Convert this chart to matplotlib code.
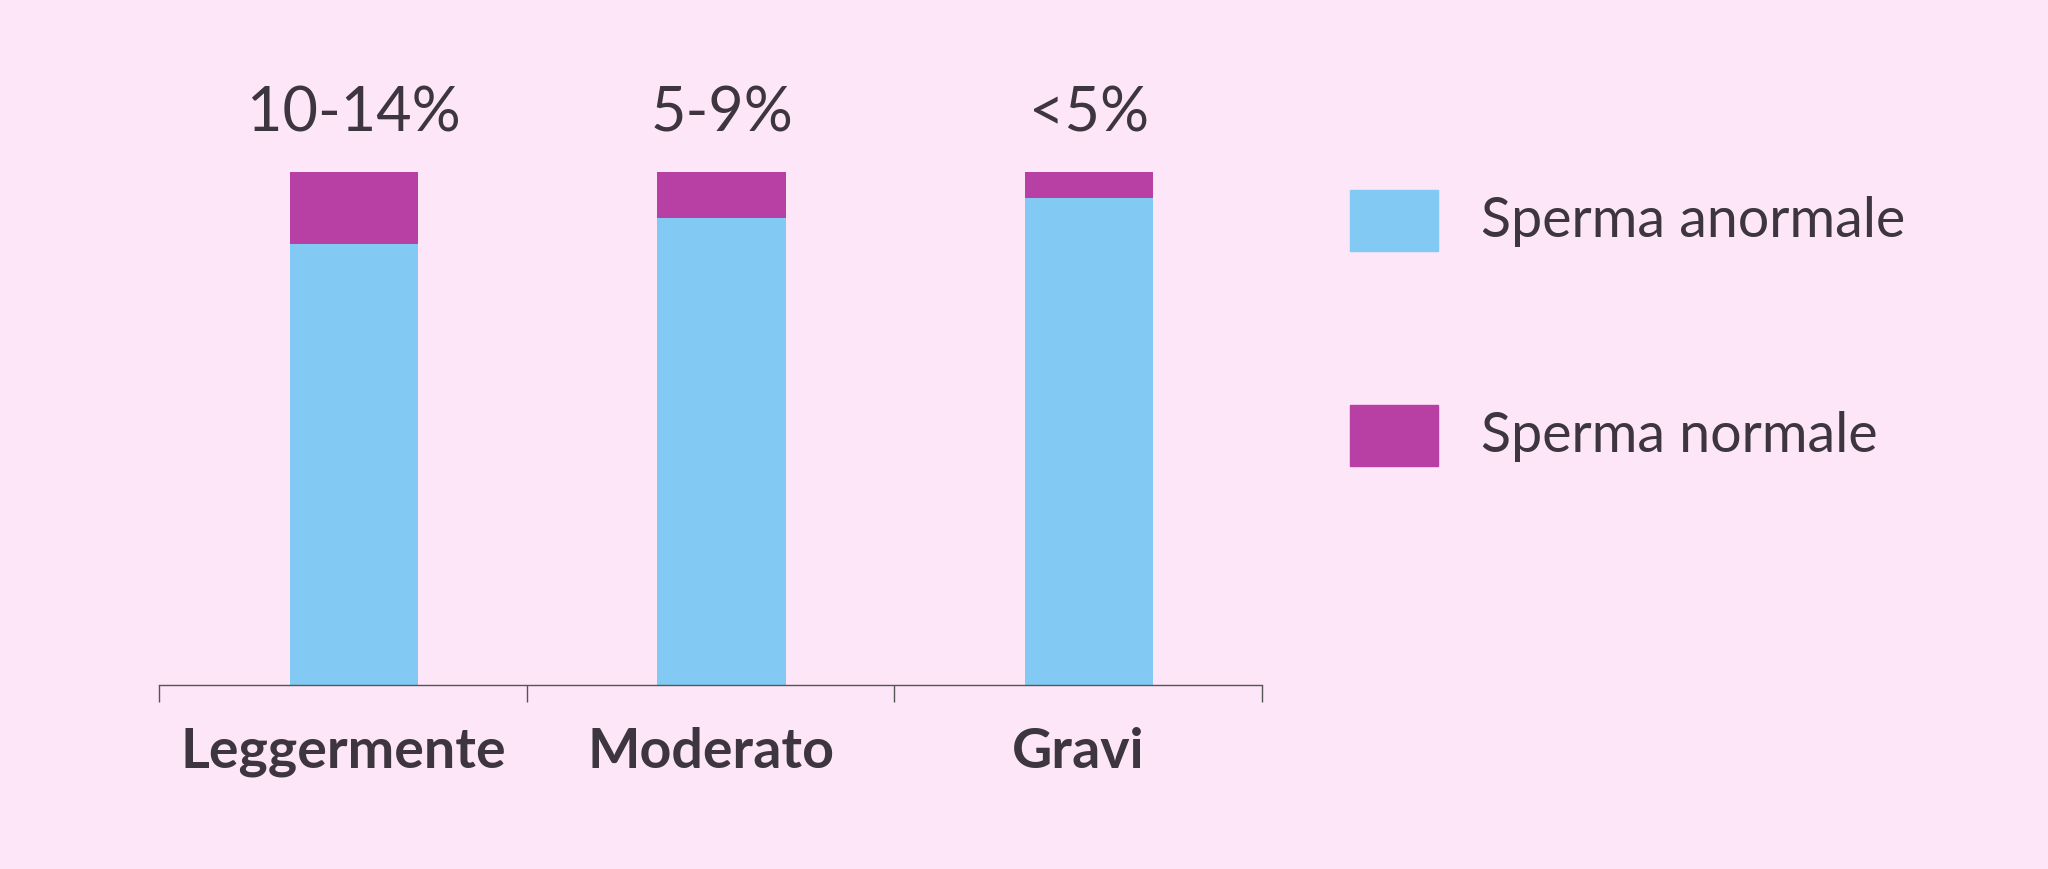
import matplotlib
matplotlib.use("Agg")
import matplotlib.pyplot as plt
from matplotlib.patches import Rectangle

categories = ["Leggermente", "Moderato", "Gravi"]
abnormal = [86, 91, 95]
normal = [14, 9, 5]
top_labels = ["10-14%", "5-9%", "<5%"]
legend_labels = ["Sperma anormale", "Sperma normale"]

bg = "#fde6f8"
blue = "#82caf3"
mag = "#b83fa3"
txt = "#3d3540"
plt.rcParams['font.family'] = ['Lato', 'DejaVu Sans']

fig = plt.figure(figsize=(20.48, 8.7), dpi=100, facecolor=bg)
ax = fig.add_axes([0.0778, 0.211, 0.5383, 0.59], facecolor=bg)
x = [i + 0.03 for i in range(len(categories))]
ax.bar(x, abnormal, width=0.35, color=blue)
ax.bar(x, normal, bottom=abnormal, width=0.35, color=mag)
for xi, a, n, t in zip(x, abnormal, normal, top_labels):
    ax.text(xi, a + n + 6, t, ha="center", va="bottom", fontsize=44, color=txt)
ax.set_xlim(-0.5, 2.5)
ax.set_ylim(0, 100)
for s in ["top", "right", "left"]:
    ax.spines[s].set_visible(False)
ax.spines["bottom"].set_color("#555555")
ax.spines["bottom"].set_linewidth(1)
ax.set_yticks([])
ax.set_xticks([-0.5, 0.5, 1.5, 2.5])
ax.set_xticklabels([])
ax.tick_params(axis="x", length=12, color="#555555", width=1)
for i, c in enumerate(categories):
    ax.text(i, -8, c, ha="center", va="top", fontsize=40, fontweight="bold", color=txt)

ys = [0.745, 0.498]
cols = [blue, mag]
for y, c, l in zip(ys, cols, legend_labels):
    fig.add_artist(Rectangle((0.659, y - 0.035), 0.043, 0.07, transform=fig.transFigure, color=c))
    fig.text(0.723, y, l, ha="left", va="center", fontsize=40, color=txt)

fig.savefig("out.png", dpi=100, facecolor=bg)
